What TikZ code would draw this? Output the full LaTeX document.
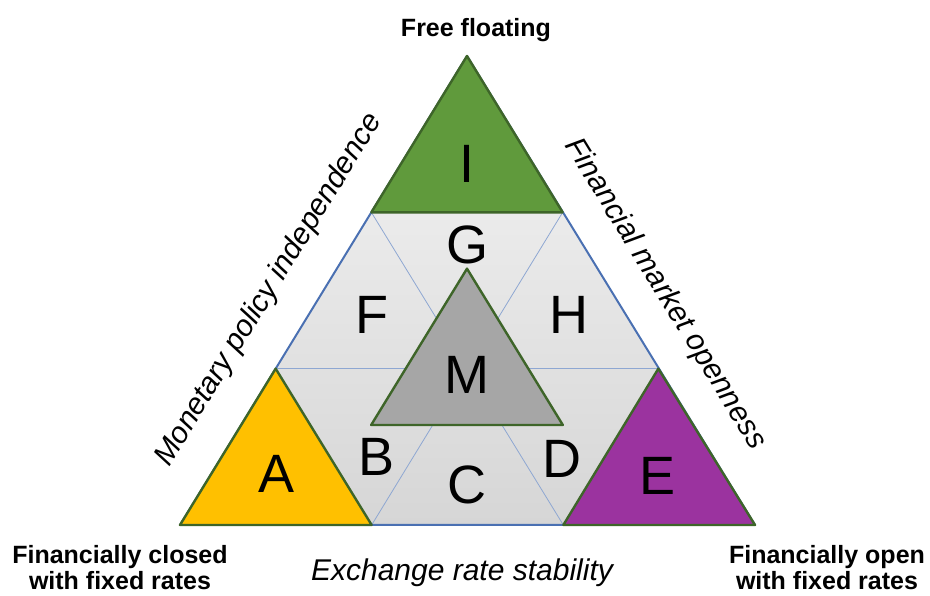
\documentclass[tikz,border=0pt]{standalone}
\usepackage{fontspec}
\setmainfont{Liberation Sans}
\definecolor{igreen}{HTML}{609A3C}
\definecolor{dkgreen}{HTML}{3E6529}
\definecolor{agold}{HTML}{FFC000}
\definecolor{epurple}{HTML}{9B339F}
\definecolor{mgray}{HTML}{A6A6A6}
\definecolor{outerblue}{HTML}{4A70B2}
\definecolor{gridblue}{HTML}{8EA7D2}
\definecolor{hextop}{HTML}{EBEBEB}
\definecolor{hexbot}{HTML}{D6D6D6}
\begin{document}
\begin{tikzpicture}[x=1pt,y=1pt,
  letter/.style={inner sep=0pt, font=\fontsize{54}{60}\selectfont},
  axislabel/.style={inner sep=0pt, font=\fontsize{30}{34}\selectfont\itshape},
  cornerlabel/.style={inner sep=0pt, align=center, font=\fontsize{25}{26}\selectfont\bfseries},
  tri/.style={draw=dkgreen, line width=2.4pt, line join=round},
  gridline/.style={draw=gridblue, line width=0.8pt},
]
\useasboundingbox (0,0) rectangle (930,596);
% main points
\coordinate (T) at (467,540);
\coordinate (L) at (180,71);
\coordinate (R) at (755,71);
\coordinate (P1) at (371.33,383.67);
\coordinate (P2) at (275.67,227.33);
\coordinate (Q1) at (562.67,383.67);
\coordinate (Q2) at (658.33,227.33);
\coordinate (S1) at (371.67,71);
\coordinate (S2) at (563.33,71);
\coordinate (MT) at (467,327.33);
\coordinate (ML) at (371.17,171);
\coordinate (MR) at (562.83,171);
% light hexagon
\shade[top color=hextop, bottom color=hexbot] (P1) -- (Q1) -- (Q2) -- (S2) -- (S1) -- (P2) -- cycle;
% grid lines
\draw[gridline] (P2) -- (Q2);
\draw[gridline] (P1) -- (S2);
\draw[gridline] (Q1) -- (S1);
% outer triangle
\draw[outerblue, line width=2pt, line join=round] (T) -- (R) -- (L) -- cycle;
% corner triangles
\filldraw[tri, fill=igreen] (T) -- (Q1) -- (P1) -- cycle;
\filldraw[tri, fill=agold] (P2) -- (S1) -- (L) -- cycle;
\filldraw[tri, fill=epurple] (Q2) -- (R) -- (S2) -- cycle;
\filldraw[tri, fill=mgray] (MT) -- (MR) -- (ML) -- cycle;
% letters
\node[letter] (lI) at (467,432) {I};
\node[letter] (lG) at (467,351) {G};
\node[letter] (lF) at (372,281) {F};
\node[letter] (lH) at (569,281) {H};
\node[letter] (lM) at (467,221) {M};
\node[letter] (lA) at (277,122) {A};
\node[letter] (lE) at (658,120) {E};
\node[letter] (lB) at (377,139) {B};
\node[letter] (lC) at (467,111) {C};
\node[letter] (lD) at (562,137) {D};
% axis labels
\node[axislabel, rotate=58.5] (mpi) at (269,306) {Monetary policy independence};
\node[axislabel, rotate=-58.5] (fmo) at (665,302) {Financial market openness};
\node[axislabel, anchor=base] (ers) at (462,15) {Exchange rate stability};
% corner labels
\node[cornerlabel, anchor=base] (ff) at (476,559) {Free floating};
\node[cornerlabel] (fc) at (120,28) {Financially closed\\with fixed rates};
\node[cornerlabel] (fo) at (827,28) {Financially open\\with fixed rates};
\end{tikzpicture}
\end{document}
